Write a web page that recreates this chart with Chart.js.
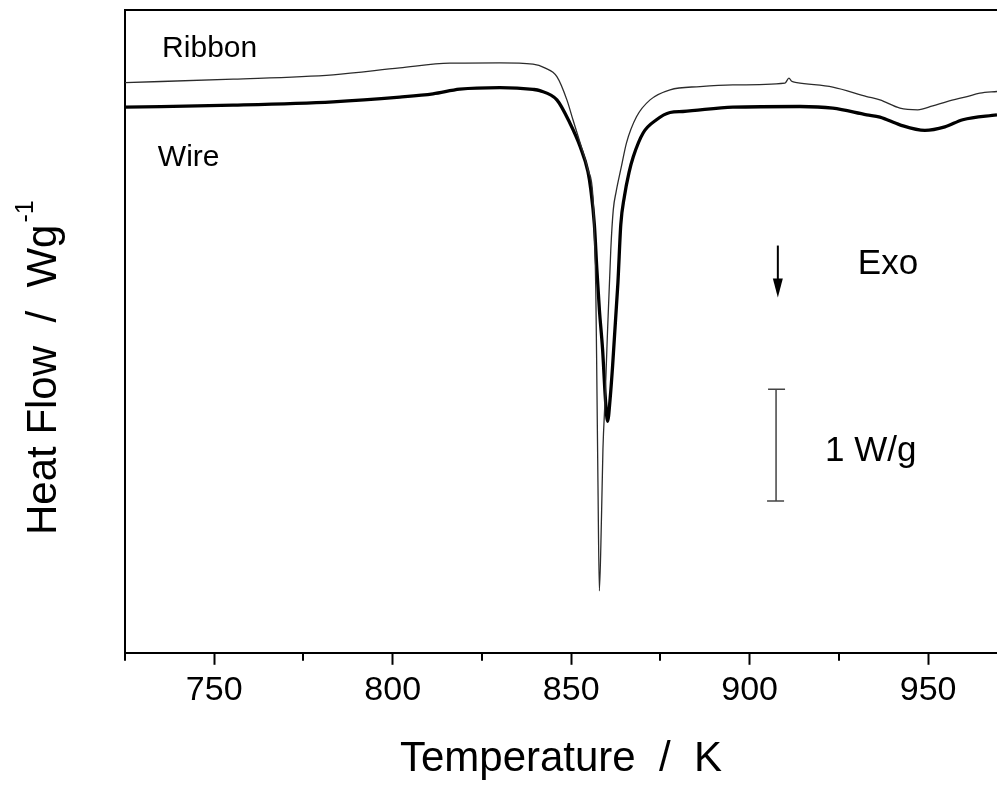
<!DOCTYPE html>
<html>
<head>
<meta charset="utf-8">
<script src="https://cdn.jsdelivr.net/npm/chart.js@4.4.0/dist/chart.umd.min.js"></script>
<style>
html, body { margin: 0; padding: 0; background: #fff; }
</style>
</head>
<body>
<canvas id="dsc" width="997" height="785"></canvas>
<script>
// DSC scans: temperature in K, heat flow in W/g (offset arbitrary)
const ribbonT = [725.0, 755.3, 783.3, 802.0, 816.0, 830.0, 839.3, 842.6, 846.0, 848.8, 850.5, 852.5, 854.7, 856.1, 856.5, 856.9, 857.2, 857.5, 857.9,
    858.5, 858.9, 859.5, 860.0, 861.1, 861.8, 862.6, 864.0, 865.5, 868.3, 872.1, 877.7, 886.1, 895.3, 909.9, 911.0, 911.8, 913.2, 923.3, 932.8, 936.5,
    942.1, 947.1, 951.3, 955.3, 960.9, 964.5, 969.3];
const ribbonHF = [-0.149, -0.119, -0.080, -0.018, 0.024, 0.027, 0.015, -0.018, -0.096, -0.304, -0.482, -0.688, -0.929, -1.170, -1.500, -2.000, -2.830, -3.723, -4.696,
    -4.027, -3.429, -2.982, -2.536, -1.643, -1.286, -1.125, -0.911, -0.688, -0.455, -0.304, -0.214, -0.185, -0.170, -0.154, -0.110, -0.138, -0.149, -0.190, -0.274, -0.304,
    -0.378, -0.393, -0.357, -0.319, -0.274, -0.244, -0.229];

const wireT = [725.0, 755.3, 783.3, 802.0, 811.3, 818.8, 830.0, 839.3, 841.2, 846.0, 849.6, 852.5, 854.7, 855.5, 856.5, 857.2, 857.9, 858.8, 859.6, 860.2,
    860.9, 861.6, 863.1, 863.9, 864.9, 866.2, 867.4, 870.2, 873.9, 877.7, 881.3, 895.3, 914.1, 923.3, 932.8, 936.5, 942.1, 949.1, 954.7, 959.7, 969.3];
const wireHF = [-0.369, -0.351, -0.321, -0.279, -0.250, -0.208, -0.194, -0.210, -0.221, -0.304, -0.509, -0.721, -0.946, -1.107, -1.420, -1.821, -2.179, -2.536, -2.982, -3.179,
    -2.982, -2.688, -1.938, -1.420, -1.170, -0.955, -0.813, -0.598, -0.482, -0.417, -0.408, -0.369, -0.363, -0.378, -0.4375, -0.458, -0.527, -0.576, -0.545, -0.482, -0.4375];

const majorTicks = [750, 800, 850, 900, 950];
const minorTicks = [725, 775, 825, 875, 925];

// Exo arrow and the 1 W/g scale bar, in data units
const arrowT = 907.9, arrowFrom = -1.607, arrowTo = -2.071;
const barT = 907.4, barTop = -2.893, barSize = 1;

const notes = [
    { text: 'Ribbon', t: 735.4, hf: 0.152, size: 30 },
    { text: 'Wire', t: 734.2, hf: -0.821, size: 30 },
    { text: 'Exo', t: 930.3, hf: -1.777, size: 35 },
    { text: '1 W/g', t: 921.1, hf: -3.446, size: 35 }
];

const FONT = '"Liberation Sans", Arial, sans-serif';

function toPoints(xs, ys) {
    return xs.map((x, i) => ({ x: x, y: ys[i] }));
}

const extras = {
    id: 'extras',
    afterDraw(chart) {
        const ctx = chart.ctx;
        const area = chart.chartArea;
        const x = chart.scales.x, y = chart.scales.y;
        ctx.save();

        // top frame line
        ctx.strokeStyle = '#000';
        ctx.lineWidth = 2;
        ctx.beginPath();
        ctx.moveTo(area.left - 1, area.top);
        ctx.lineTo(area.right, area.top);
        ctx.stroke();

        // minor ticks
        minorTicks.forEach(v => {
            const px = Math.round(x.getPixelForValue(v));
            ctx.beginPath();
            ctx.moveTo(px, area.bottom);
            ctx.lineTo(px, area.bottom + 8);
            ctx.stroke();
        });

        // Exo arrow
        const ax = x.getPixelForValue(arrowT);
        const ay0 = y.getPixelForValue(arrowFrom), ay1 = y.getPixelForValue(arrowTo);
        ctx.lineWidth = 2;
        ctx.beginPath();
        ctx.moveTo(ax, ay0);
        ctx.lineTo(ax, ay1 - 10);
        ctx.stroke();
        ctx.fillStyle = '#000';
        ctx.beginPath();
        ctx.moveTo(ax - 5, ay1 - 19);
        ctx.lineTo(ax + 5, ay1 - 19);
        ctx.lineTo(ax, ay1);
        ctx.closePath();
        ctx.fill();

        // scale bar
        const bx = x.getPixelForValue(barT);
        const by0 = y.getPixelForValue(barTop), by1 = y.getPixelForValue(barTop - barSize);
        ctx.strokeStyle = '#444';
        ctx.lineWidth = 1.5;
        ctx.beginPath();
        ctx.moveTo(bx, by0);
        ctx.lineTo(bx, by1);
        ctx.moveTo(bx - 8, by0);
        ctx.lineTo(bx + 9, by0);
        ctx.moveTo(bx - 9, by1);
        ctx.lineTo(bx + 8, by1);
        ctx.stroke();

        // text notes
        ctx.fillStyle = '#000';
        ctx.textAlign = 'left';
        ctx.textBaseline = 'middle';
        notes.forEach(n => {
            ctx.font = n.size + 'px ' + FONT;
            ctx.fillText(n.text, x.getPixelForValue(n.t), y.getPixelForValue(n.hf));
        });

        // y axis title with superscript
        ctx.translate(56, 535);
        ctx.rotate(-Math.PI / 2);
        ctx.textBaseline = 'alphabetic';
        ctx.font = '42px ' + FONT;
        const main = 'Heat Flow  /  Wg';
        ctx.fillText(main, 0, 0);
        const w = ctx.measureText(main).width;
        ctx.font = '25px ' + FONT;
        ctx.fillText('-1', w + 2, -23);
        ctx.restore();
    }
};

const chart = new Chart(document.getElementById('dsc'), {
    type: 'line',
    data: {
        datasets: [
            {
                label: 'Ribbon',
                data: toPoints(ribbonT, ribbonHF),
                borderColor: '#2b2b2b',
                borderWidth: 1.3,
                pointRadius: 0,
                cubicInterpolationMode: 'monotone'
            },
            {
                label: 'Wire',
                data: toPoints(wireT, wireHF),
                borderColor: '#000',
                borderWidth: 3.3,
                pointRadius: 0,
                cubicInterpolationMode: 'monotone'
            }
        ]
    },
    options: {
        responsive: false,
        animation: false,
        devicePixelRatio: 1,
        layout: { padding: { left: 117, top: 10, right: 0, bottom: 0 } },
        plugins: {
            legend: { display: false },
            tooltip: { enabled: false }
        },
        scales: {
            x: {
                type: 'linear',
                min: 725,
                max: 969.3,
                afterBuildTicks: s => { s.ticks = majorTicks.map(v => ({ value: v })); },
                ticks: {
                    color: '#000',
                    font: { family: FONT, size: 34 },
                    padding: 5,
                    maxRotation: 0,
                    autoSkip: false
                },
                grid: { drawOnChartArea: false, tickLength: 12, tickWidth: 2, tickColor: '#000' },
                border: { color: '#000', width: 2 },
                title: {
                    display: true,
                    text: 'Temperature  /  K',
                    color: '#000',
                    font: { family: FONT, size: 42 },
                    padding: { top: 19, bottom: 0 }
                }
            },
            y: {
                min: -5.25,
                max: 0.5,
                ticks: { display: false },
                grid: { display: false },
                border: { display: true, color: '#000', width: 2 }
            }
        }
    },
    plugins: [extras]
});
</script>
</body>
</html>
